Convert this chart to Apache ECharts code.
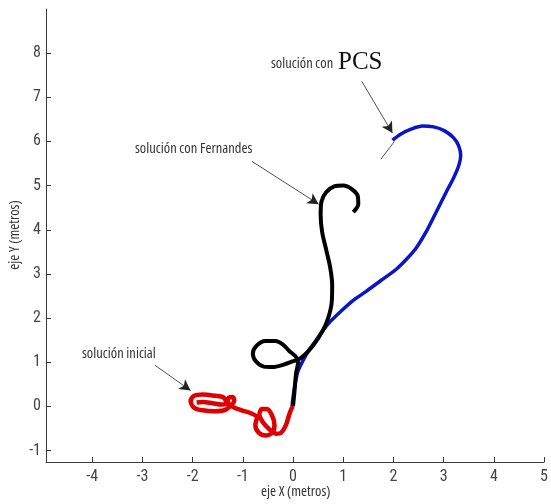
<!DOCTYPE html>
<html>
<head>
<meta charset="utf-8">
<script src="https://cdn.jsdelivr.net/npm/echarts@6/dist/echarts.min.js"></script>
<style>html,body{margin:0;padding:0;background:#fff}#c{width:551px;height:504px}</style>
</head>
<body>
<div id="c"></div>
<script>
// ---- data (metres) ----
var xTicks = [-4, -3, -2, -1, 0, 1, 2, 3, 4, 5];
var yTicks = [-1, 0, 1, 2, 3, 4, 5, 6, 7, 8];

var pcsPath = [
  [-0.02,0],[0,0.2],[0.04,0.5],[0.1,0.8],[0.2,1.04],[0.31,1.26],[0.45,1.48],[0.59,1.71],[0.75,1.93],
  [0.95,2.15],[1.2,2.4],[1.45,2.6],[1.75,2.85],[2.05,3.1],[2.25,3.32],[2.45,3.58],[2.65,3.95],
  [2.86,4.42],[3.05,4.85],[3.2,5.18],[3.3,5.45],[3.34,5.68],[3.3,5.9],[3.2,6.08],[3.02,6.24],[2.8,6.33],
  [2.58,6.35],[2.35,6.28],[2.15,6.17],[1.98,6.03]
];

var fernandesPath = [
  [0,0],[0.03,0.35],[0.06,0.74],[0.1,1.0],[0.06,1.12],[-0.08,1.26],[-0.2,1.4],[-0.35,1.48],
  [-0.55,1.48],[-0.72,1.38],[-0.8,1.2],[-0.74,1.02],[-0.58,0.9],[-0.4,0.89],[-0.2,0.94],
  [-0.05,1.0],[0.16,1.1],[0.4,1.38],[0.59,1.71],[0.7,2.0],[0.77,2.35],[0.78,2.75],[0.74,3.15],
  [0.66,3.55],[0.58,3.95],[0.55,4.35],[0.57,4.65],[0.66,4.85],[0.82,4.98],[1.0,5.0],[1.17,4.92],
  [1.29,4.76],[1.3,4.58],[1.2,4.4]
];

var initialPath = [
  [-1.92,0.09],[-1.8,0.1],[-1.6,0.07],[-1.42,0.04],[-1.33,0.07],
  [-1.38,0.2],[-1.55,0.24],[-1.8,0.27],[-1.97,0.24],[-2.04,0.12],[-1.97,-0.03],[-1.8,-0.09],
  [-1.55,-0.11],[-1.35,-0.08],[-1.22,0.04],[-1.17,0.13],[-1.2,0.21],[-1.28,0.2],[-1.3,0.1],
  [-1.2,-0.01],[-1.02,-0.09],[-0.85,-0.15],[-0.72,-0.25],[-0.75,-0.42],[-0.68,-0.6],
  [-0.53,-0.66],[-0.4,-0.58],[-0.37,-0.42],[-0.42,-0.2],[-0.52,-0.06],[-0.62,-0.06],
  [-0.67,-0.18],[-0.6,-0.36],[-0.47,-0.52],[-0.34,-0.62],[-0.24,-0.6],[-0.14,-0.42],
  [-0.08,-0.2],[-0.03,-0.05],[0,0]
];

// annotation arrows: [from, to]
var arrowPCS = [[1.37, 7.36], [1.98, 6.19]];
var tickPCS = [[1.75, 5.6], [2.02, 6.0]];
var arrowFern = [[-0.82, 5.55], [0.51, 4.58]];
var arrowIni = [[-2.75, 0.93], [-2.04, 0.36]];

var labelFont = "'Roboto Condensed', 'Open Sans', sans-serif";
var textFont = "condensed 14.5px 'Open Sans', sans-serif";

var chart = echarts.init(document.getElementById('c'));
var axisLineStyle = { show: true, onZero: false, lineStyle: { color: '#3a3a3a', width: 1 } };
var tickStyle = { show: true, inside: true, length: 5, lineStyle: { color: '#3a3a3a' } };
var labelStyle = { color: '#444', fontSize: 16, fontFamily: labelFont };

function seg(a, st) {
  return [{ coord: a[0], symbol: 'none' }, { coord: a[1], symbol: st }];
}

chart.setOption({
  animation: false,
  grid: { left: 46, top: 9, width: 505, height: 453 },
  xAxis: {
    type: 'value', min: -4.92, max: 5,
    axisLine: axisLineStyle,
    splitLine: { show: false },
    axisTick: Object.assign({}, tickStyle, { customValues: xTicks }),
    axisLabel: Object.assign({}, labelStyle, { customValues: xTicks, margin: 7 })
  },
  yAxis: {
    type: 'value', min: -1.26, max: 9,
    axisLine: axisLineStyle,
    splitLine: { show: false },
    axisTick: Object.assign({}, tickStyle, { customValues: yTicks }),
    axisLabel: Object.assign({}, labelStyle, { customValues: yTicks, margin: 5 })
  },
  series: [
    { type: 'line', data: pcsPath, showSymbol: false, smooth: 0.3, z: 2,
      lineStyle: { color: '#0a14c8', width: 3.5 } },
    { type: 'line', data: fernandesPath, showSymbol: false, smooth: 0.3, z: 3,
      lineStyle: { color: '#000', width: 4 } },
    { type: 'line', data: initialPath, showSymbol: false, smooth: 0.3, z: 4,
      lineStyle: { color: '#e00000', width: 4.5 } },
    { type: 'line', data: [], z: 5,
      markLine: {
        silent: true, animation: false, symbolSize: [9, 11],
        label: { show: false },
        lineStyle: { color: '#222', width: 0.8, type: 'solid' },
        data: [seg(arrowPCS, 'arrow'), seg(tickPCS, 'none'), seg(arrowFern, 'arrow'), seg(arrowIni, 'arrow')]
      } }
  ],
  graphic: [
    { type: 'text', left: 271, top: 56, style: { text: 'solución con', font: textFont, fill: '#333' } },
    { type: 'text', left: 338, top: 50, style: { text: 'PCS', font: '25px "Liberation Serif", serif', fill: '#111' } },
    { type: 'text', left: 135, top: 141, style: { text: 'solución con Fernandes', font: textFont, fill: '#333' } },
    { type: 'text', left: 82, top: 346, style: { text: 'solución inicial', font: textFont, fill: '#333' } },
    { type: 'text', left: 261, top: 484, style: { text: 'eje X (metros)', font: textFont, fill: '#333' } },
    { type: 'text', x: 15, y: 235, rotation: Math.PI / 2,
      style: { text: 'eje Y (metros)', font: textFont, fill: '#333', align: 'center', verticalAlign: 'middle' } }
  ]
});
</script>
</body>
</html>
